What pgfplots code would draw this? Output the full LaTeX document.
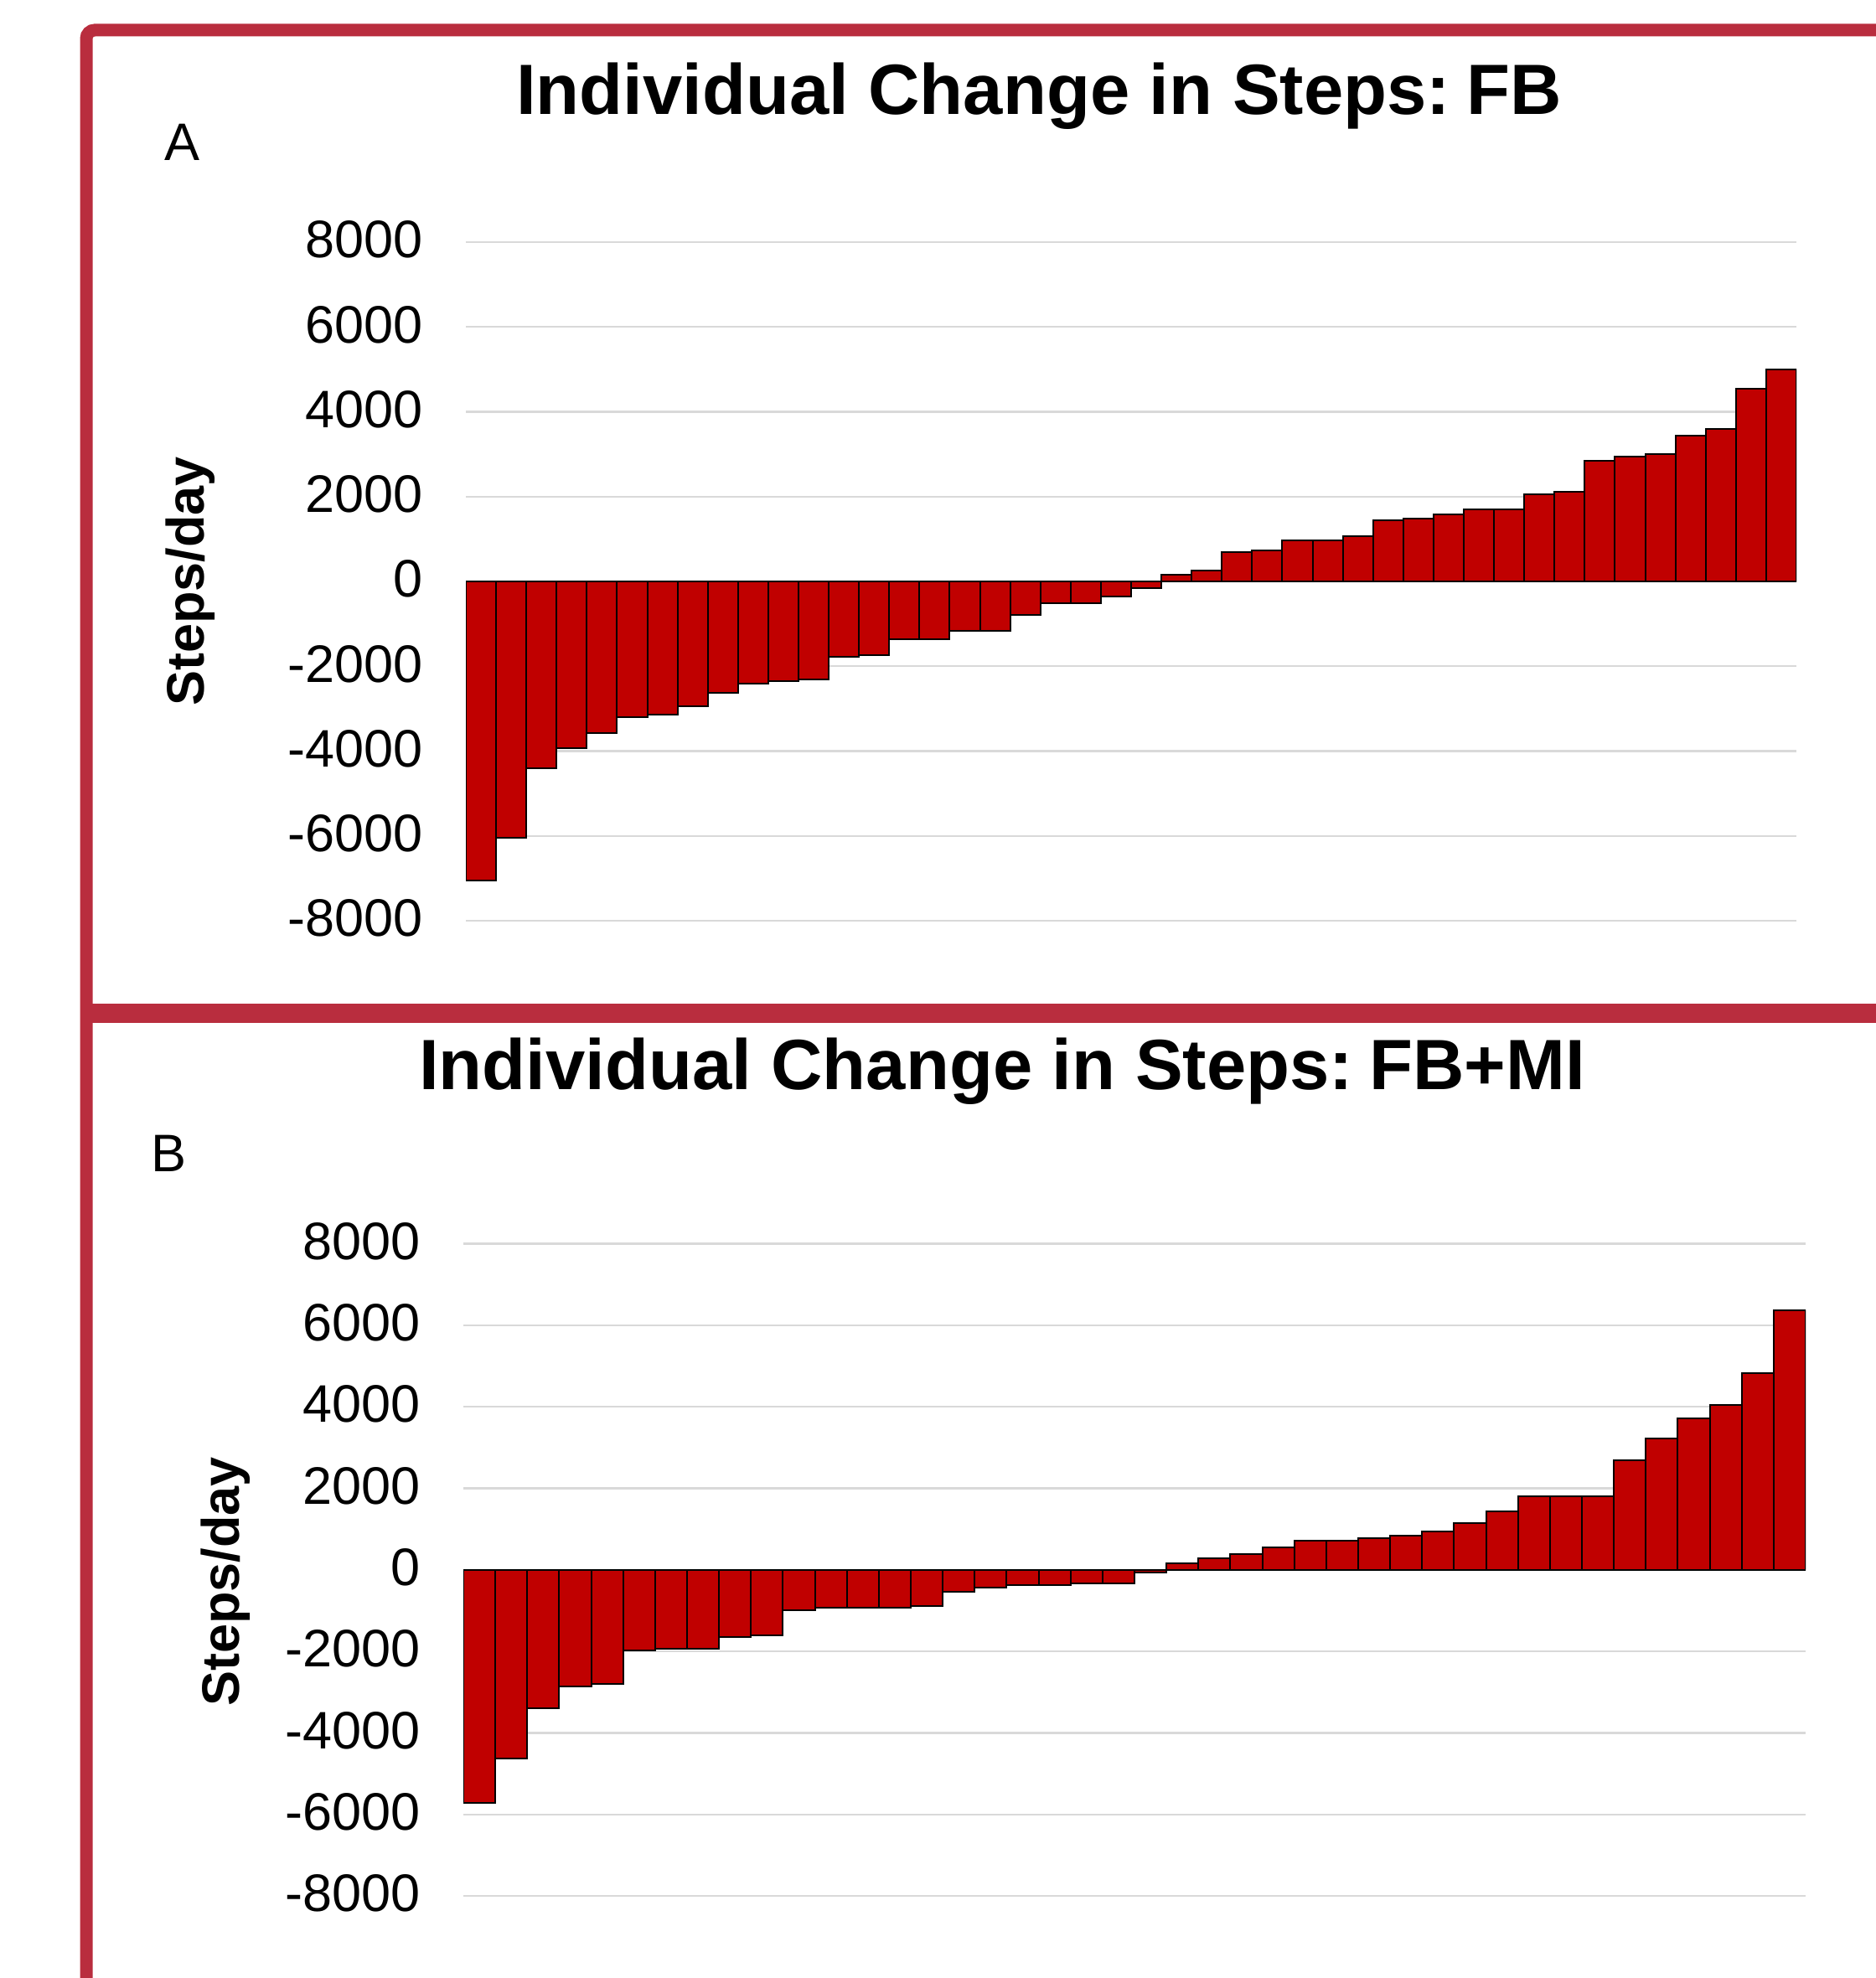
\documentclass[border=0pt]{standalone}
\usepackage{fontspec}
\setmainfont{Liberation Sans}
\usepackage{pgfplots}
\usepackage{pgfplotstable}
\pgfplotsset{compat=1.18}
\definecolor{framered}{HTML}{B92D3E}
\definecolor{barred}{HTML}{C00000}
\definecolor{gridgray}{HTML}{D9D9D9}

\pgfplotstableread{
v
-7050
-6050
-4410
-3940
-3570
-3200
-3150
-2940
-2630
-2410
-2360
-2310
-1780
-1730
-1370
-1370
-1160
-1160
-780
-520
-520
-360
-150
150
260
700
740
960
960
1060
1440
1480
1590
1690
1690
2060
2110
2850
2950
3000
3440
3590
4540
5000
}\dataA

\pgfplotstableread{
v
-5710
-4620
-3400
-2860
-2800
-1980
-1930
-1930
-1650
-1600
-990
-930
-930
-930
-880
-550
-440
-370
-370
-330
-330
-60
160
280
380
550
710
710
770
830
930
1150
1430
1810
1810
1810
2690
3230
3720
4050
4820
6360
}\dataB

\pgfplotsset{
  stepaxis/.style={
    scale only axis,
    ybar, bar width=1,
    ymin=-8000, ymax=8000,
    ytick={-8000,-6000,-4000,-2000,0,2000,4000,6000,8000},
    yticklabels={-8000,-6000,-4000,-2000,0,2000,4000,6000,8000},
    xtick=\empty,
    major tick length=0pt,
    axis line style={draw=none},
    ymajorgrids,
    grid style={draw=gridgray, line width=0.6pt},
    yticklabel style={font=\fontsize{15.75}{18}\selectfont, inner sep=0pt, xshift=-12.6pt, yshift=0.7pt},
  },
  stepbars/.style={fill=barred, draw=black, line width=0.5pt},
}

\begin{document}
\begin{tikzpicture}
\useasboundingbox (0,0) rectangle (559.5pt,-590.25pt);

% frame
\draw[framered, line width=3.75pt, rounded corners=2.5pt] (25.75pt,-600pt) -- (25.75pt,-9pt) -- (570pt,-9pt);
\draw[framered, line width=5.75pt] (24pt,-302.4pt) -- (570pt,-302.4pt);

% titles
\node[anchor=base, inner sep=0pt, font=\fontsize{21.25}{25}\selectfont\bfseries] at (310pt,-34.25pt) {Individual Change in Steps:\kern-1pt\ FB};
\node[anchor=base, inner sep=0pt, font=\fontsize{21.25}{25}\selectfont\bfseries] at (299pt,-325pt) {Individual Change in Steps:\kern-1pt\ FB+MI};

% panel letters
\node[anchor=base west, inner sep=0pt, font=\fontsize{15.75}{18}\selectfont] at (49pt,-48pt) {A};
\node[anchor=base west, inner sep=0pt, font=\fontsize{15.75}{18}\selectfont] at (45pt,-349.5pt) {B};

% y labels
\node[rotate=90, inner sep=0pt, font=\fontsize{15.75}{18}\selectfont\bfseries] at (56.75pt,-173.5pt) {Steps/day};
\node[rotate=90, inner sep=0pt, font=\fontsize{15.75}{18}\selectfont\bfseries] at (67.25pt,-472pt) {Steps/day};

\begin{axis}[stepaxis,
  at={(139pt,-274.75pt)}, anchor=south west,
  width=397pt, height=202.5pt,
  xmin=0.5, xmax=44.5]
\addplot[stepbars] table[x expr=\coordindex+1, y=v] {\dataA};
\end{axis}

\begin{axis}[stepaxis,
  at={(138.25pt,-565.75pt)}, anchor=south west,
  width=400.5pt, height=194.65pt,
  xmin=0.5, xmax=42.5]
\addplot[stepbars] table[x expr=\coordindex+1, y=v] {\dataB};
\end{axis}
\end{tikzpicture}
\end{document}
